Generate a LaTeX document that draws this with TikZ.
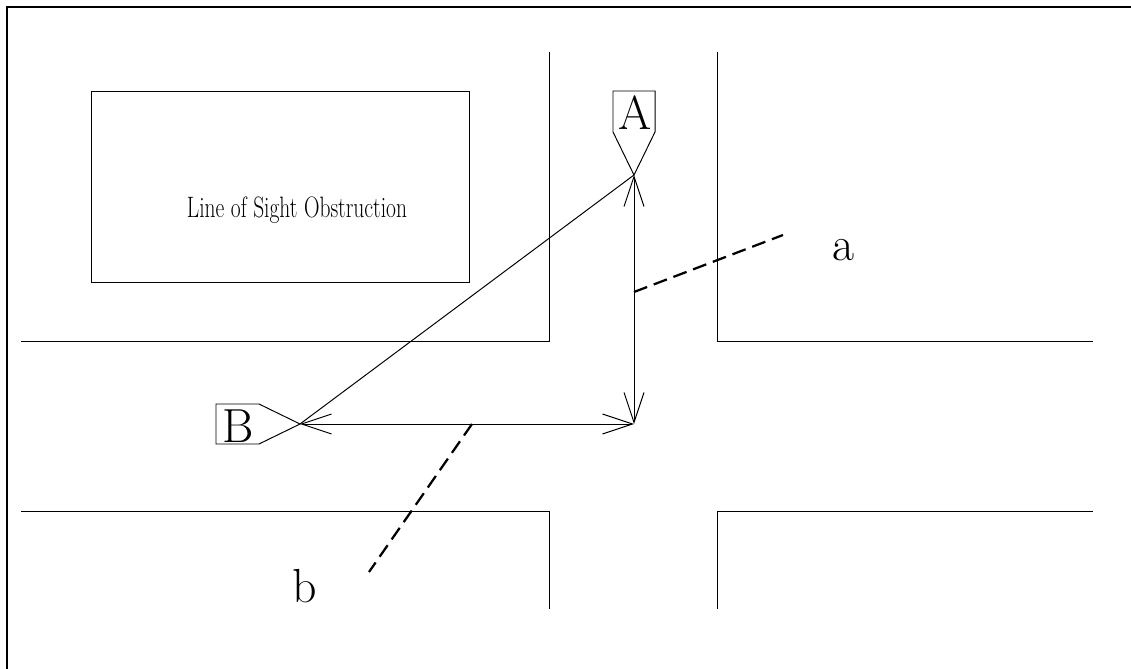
\documentclass[tikz,border=0pt]{standalone}
\usetikzlibrary{arrows.meta}

\begin{document}
\begin{tikzpicture}[x=0.025cm, y=-0.025cm,
    wall/.style={line width=0.7pt},
    leg/.style={line width=0.7pt, {Straight Barb[length=0.75cm,width=0.5cm]}-{Straight Barb[length=0.75cm,width=0.5cm]}},
    callout/.style={line width=1.6pt, dash pattern=on 10pt off 5pt},
    big/.style={font=\fontsize{34}{40}\selectfont, inner sep=0pt}]

  \useasboundingbox (0,0) rectangle (1131,669);
  % page frame (top and left edge only)
  \draw[line width=1.4pt] (7,669) -- (7,7) -- (1131,7);

  % building that blocks the view
  \draw[wall] (91,91) rectangle (469,282);
  \node[font=\fontsize{21}{24}\selectfont, inner sep=0pt, anchor=base] (obst) at (297,218)
    {\resizebox{5.5cm}{\height}{Line of Sight Obstruction}};

  % street corners
  \draw[wall] (21,341) -| (549,52);
  \draw[wall] (717,52) |- (1093,341);
  \draw[wall] (21,511) -| (549,609);
  \draw[wall] (717,609) |- (1093,511);

  % the two stations
  \coordinate (A) at (634,175);
  \coordinate (B) at (300,424);
  \coordinate (C) at (634,424);
  \draw[wall] (A) -- ++(21,-43) -- ++(0,-41) -- ++(-42,0) -- ++(0,41) -- cycle;
  \draw[wall] (B) -- ++(-41,-20) -- ++(-43,0) -- ++(0,40) -- ++(43,0) -- cycle;
  \node[big, anchor=base] (lblA) at (635,130) {A};
  \node[big, anchor=base] (lblB) at (238,442) {B};

  % direct sight line and the two legs along the streets
  \draw[wall] (A) -- (B);
  \draw[leg] (A) -- (C);
  \draw[leg] (B) -- (C);

  % leg names
  \coordinate (pa) at (634,292);
  \coordinate (ea) at (783,235);
  \coordinate (pb) at (472,424);
  \coordinate (eb) at (369,572);
  \node[big, anchor=base] (la) at (843,261) {a};
  \node[big, anchor=base] (lb) at (305,602) {b};
  \draw[callout] (pa) -- (ea);
  \draw[callout] (pb) -- (eb);
\end{tikzpicture}
\end{document}
